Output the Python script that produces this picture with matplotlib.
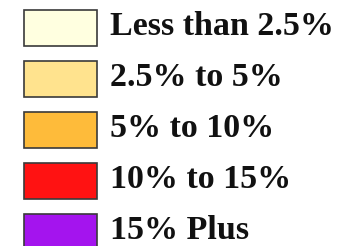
import matplotlib.pyplot as plt

labels = ["Less than 2.5%", "2.5% to 5%", "5% to 10%", "10% to 15%", "15% Plus"]
colors = ["#FFFFE0", "#FFE38E", "#FEBB3A", "#FF1212", "#A414EE"]

fig = plt.figure(figsize=(3.46, 2.46), dpi=100)
ax = fig.add_axes([0, 0, 1, 1])
ax.set_xlim(0, 346)
# one row every 51 px, first row centred 28 px from the top
ax.set_ylim((246 - 28) / 51, -28 / 51)
ax.axis("off")

rows = range(len(labels))
ax.barh(rows, [73] * len(labels), left=24, height=0.69, color=colors,
        edgecolor="#3a3a3a", linewidth=1.2)
for i, lab in enumerate(labels):
    ax.text(110, i - 0.03, lab, va="center", ha="left", fontsize=24.5,
            fontweight="bold", family="Liberation Serif", color="#111111")

fig.savefig("out.png", dpi=100)
